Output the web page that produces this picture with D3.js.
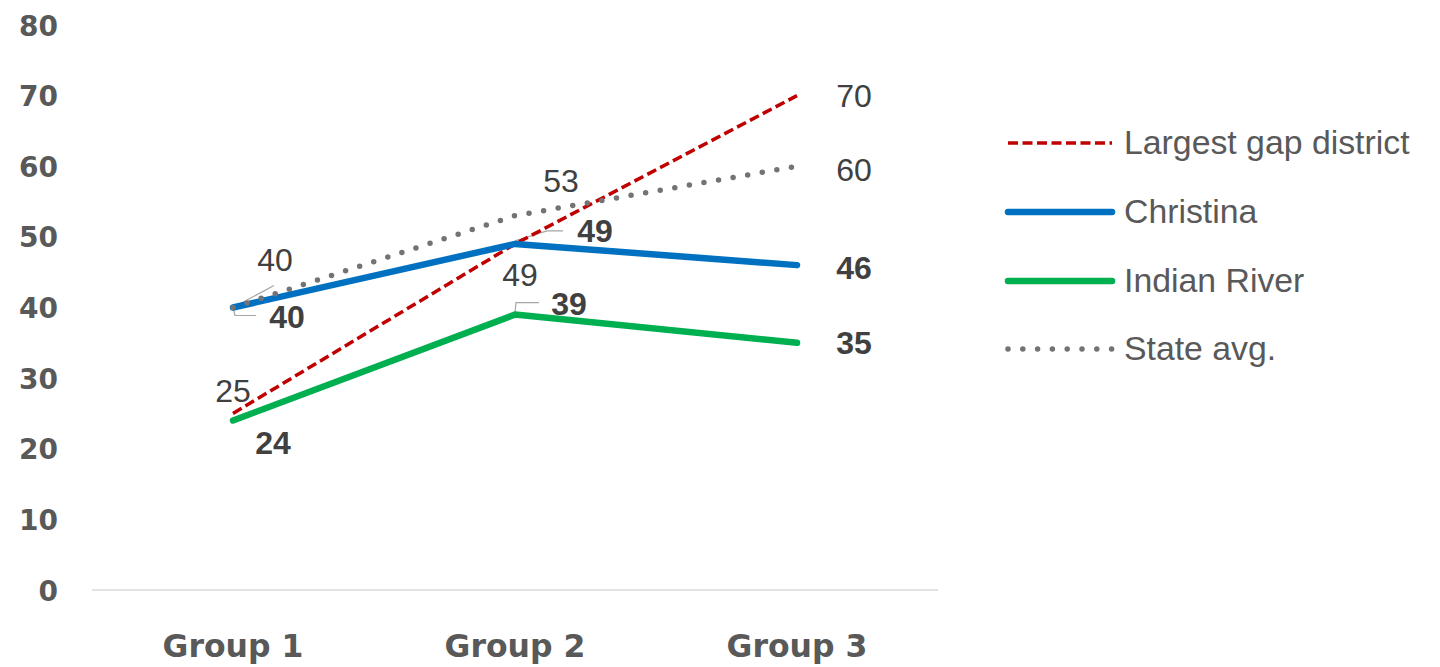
<!DOCTYPE html>
<html>
<head>
<meta charset="utf-8">
<script src="https://cdn.jsdelivr.net/npm/d3@7"></script>
<style>
  html, body { margin: 0; padding: 0; background: #ffffff; }
  svg { display: block; }
</style>
</head>
<body>
<svg id="chart" width="1440" height="667"></svg>
<script>
// ---- data ----
const categories = ["Group 1", "Group 2", "Group 3"];
const seriesNames = ["Largest gap district", "Christina", "Indian River", "State avg."];
const largestGap = [25, 49, 70];
const christina = [40, 49, 46];
const indianRiver = [24, 39, 35];
const stateAvg = [40, 53, 60];
const yTicks = [0, 10, 20, 30, 40, 50, 60, 70, 80];

// ---- layout / style ----
const styles = [
  { color: "#C00000", width: 3.5, dash: "10,4.5", cap: "butt", bold: false },
  { color: "#0070C0", width: 6.5, dash: null, cap: "round", bold: true },
  { color: "#00B050", width: 6.5, dash: null, cap: "round", bold: true },
  { color: "#737373", width: 5.5, dash: "0,14.8", cap: "round", bold: false }
];
// label centre offsets relative to the data point (dx, dy)
const labelOffsets = [
  [[0, -23], [5, 31], [57, 0]],
  [[54, 9], [80, -13], [57, 2]],
  [[40, 22], [54, -11], [57, 0]],
  [[42, -48], [46, -35], [57, 3]]
];
// leader lines (relative points) for some labels
const leaders = [
  [null, null, null],
  [[[0, 0], [2, 8], [23, 8]], [[0, -3], [32, -13], [48, -13]], null],
  [null, [[0, -2], [1, -12], [24, -12]], null],
  [[[0, 0], [41, -22]], null, null]
];

const svg = d3.select("#chart");
const allSeries = [largestGap, christina, indianRiver, stateAvg];

const x = d3.scalePoint().domain(categories).range([92, 938]).padding(0.5);
const y = d3.scaleLinear().domain([0, 80]).range([590, 25]);

// x axis baseline
svg.append("line")
  .attr("x1", 92).attr("x2", 938)
  .attr("y1", y(0)).attr("y2", y(0))
  .attr("stroke", "#d9d9d9").attr("stroke-width", 1.5);

// y tick labels
svg.append("g").selectAll("text").data(yTicks).join("text")
  .attr("x", 58).attr("y", d => y(d) + 10.5)
  .attr("text-anchor", "end")
  .attr("font-family", "DejaVu Sans")
  .attr("font-weight", "bold")
  .attr("font-size", 28)
  .attr("fill", "#595959")
  .text(d => d);

// x category labels
svg.append("g").selectAll("text").data(categories).join("text")
  .attr("x", d => x(d)).attr("y", 657)
  .attr("text-anchor", "middle")
  .attr("font-family", "DejaVu Sans")
  .attr("font-weight", "bold")
  .attr("font-size", 31.5)
  .attr("fill", "#595959")
  .text(d => d);

const line = d3.line().x((d, i) => x(categories[i])).y(d => y(d));

// leader lines (below lines)
allSeries.forEach((vals, si) => {
  vals.forEach((v, i) => {
    const l = leaders[si][i];
    if (!l) return;
    const px = x(categories[i]), py = y(v);
    svg.append("polyline")
      .attr("points", l.map(p => (px + p[0]) + "," + (py + p[1])).join(" "))
      .attr("fill", "none").attr("stroke", "#a6a6a6").attr("stroke-width", 1.2);
  });
});

// series lines
allSeries.forEach((vals, si) => {
  const s = styles[si];
  svg.append("path")
    .datum(vals)
    .attr("d", line)
    .attr("fill", "none")
    .attr("stroke", s.color)
    .attr("stroke-width", s.width)
    .attr("stroke-linecap", s.cap)
    .attr("stroke-linejoin", "round")
    .attr("stroke-dasharray", s.dash);
});

// data labels
allSeries.forEach((vals, si) => {
  const s = styles[si];
  svg.append("g").selectAll("text").data(vals).join("text")
    .attr("x", (d, i) => x(categories[i]) + labelOffsets[si][i][0])
    .attr("y", (d, i) => y(d) + labelOffsets[si][i][1] + 11.5)
    .attr("text-anchor", "middle")
    .attr("font-family", "Liberation Sans, Arial, sans-serif")
    .attr("font-weight", s.bold ? "bold" : "normal")
    .attr("font-size", 32)
    .attr("fill", "#404040")
    .text(d => d);
});

// legend
const legendY = [143, 212, 281, 349];
const lg = svg.append("g");
seriesNames.forEach((name, si) => {
  const s = styles[si];
  const ly = legendY[si];
  lg.append("line")
    .attr("x1", 1008).attr("x2", 1112)
    .attr("y1", ly).attr("y2", ly)
    .attr("stroke", s.color)
    .attr("stroke-width", s.width)
    .attr("stroke-linecap", s.cap)
    .attr("stroke-dasharray", s.dash);
  lg.append("text")
    .attr("x", 1124).attr("y", ly + 11)
    .attr("font-family", "Liberation Sans, Arial, sans-serif")
    .attr("font-size", 33.8)
    .attr("fill", "#595959")
    .text(name);
});
</script>
</body>
</html>
